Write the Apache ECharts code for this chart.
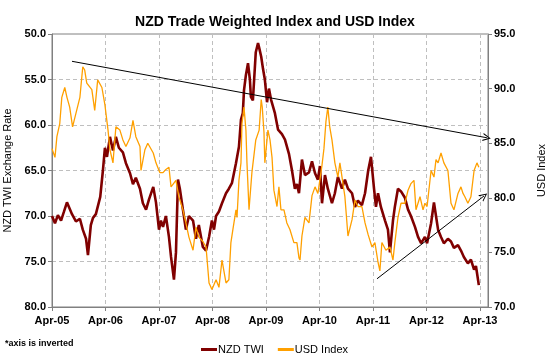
<!DOCTYPE html>
<html>
<head>
<meta charset="utf-8">
<script src="https://cdn.jsdelivr.net/npm/echarts@6/dist/echarts.min.js"></script>
<style>html,body{margin:0;padding:0;background:#fff}#c{width:550px;height:358px}</style>
</head>
<body>
<div id="c"></div>
<script>
var title = 'NZD Trade Weighted Index and USD Index';
var leftAxisName = 'NZD TWI Exchange Rate';
var rightAxisName = 'USD Index';
var footnote = '*axis is inverted';
var xTickLabels = ['Apr-05','Apr-06','Apr-07','Apr-08','Apr-09','Apr-10','Apr-11','Apr-12','Apr-13'];

var nzdDates = ['2005-04-01','2005-04-21','2005-05-11','2005-06-02','2005-06-22','2005-07-12','2005-08-16','2005-09-12','2005-10-09','2005-10-29','2005-11-20','2005-12-03','2005-12-23','2006-01-07','2006-01-27','2006-02-24','2006-03-14','2006-03-28','2006-04-11','2006-05-01','2006-05-22','2006-06-11','2006-07-01','2006-07-29','2006-08-19','2006-09-16','2006-10-06','2006-10-26','2006-11-23','2006-12-13','2007-01-04','2007-01-24','2007-02-21','2007-03-11','2007-04-01','2007-04-14','2007-04-28','2007-05-18','2007-06-08','2007-06-22','2007-07-12','2007-07-26','2007-08-09','2007-08-22','2007-09-12','2007-10-02','2007-10-23','2007-11-20','2007-12-10','2007-12-30','2008-01-27','2008-02-17','2008-03-08','2008-03-28','2008-04-11','2008-04-25','2008-05-15','2008-06-05','2008-07-02','2008-07-22','2008-08-12','2008-09-09','2008-09-29','2008-10-13','2008-10-26','2008-11-03','2008-11-16','2008-11-30','2008-12-13','2008-12-20','2009-01-03','2009-01-23','2009-02-07','2009-02-14','2009-02-27','2009-03-11','2009-03-24','2009-04-08','2009-04-21','2009-05-05','2009-06-01','2009-06-22','2009-07-19','2009-08-09','2009-09-06','2009-09-26','2009-10-16','2009-10-30','2009-11-13','2009-12-03','2009-12-24','2010-01-21','2010-02-10','2010-03-01','2010-03-21','2010-04-04','2010-04-18','2010-05-08','2010-05-28','2010-06-25','2010-07-15','2010-08-05','2010-09-02','2010-09-22','2010-10-13','2010-11-10','2010-11-30','2010-12-20','2011-01-17','2011-02-07','2011-02-27','2011-03-18','2011-04-08','2011-04-21','2011-05-05','2011-05-25','2011-06-22','2011-07-12','2011-07-26','2011-08-16','2011-08-29','2011-09-19','2011-10-10','2011-11-06','2011-11-27','2011-12-17','2012-01-14','2012-02-04','2012-02-24','2012-03-21','2012-04-05','2012-05-02','2012-05-22','2012-06-05','2012-06-19','2012-07-09','2012-07-29','2012-08-26','2012-09-16','2012-10-06','2012-11-03','2012-11-23','2012-12-13','2013-01-10','2013-01-31','2013-02-20','2013-03-04','2013-03-24'];
var nzdValues = [70.0,70.8,69.9,70.5,69.5,68.5,69.8,70.6,70.3,71.5,72.5,74.3,71.0,70.2,69.8,67.9,65.0,62.5,63.5,61.3,62.8,61.3,62.5,63.0,64.2,65.3,66.5,65.8,67.0,68.6,69.3,68.2,66.8,68.5,71.5,70.5,71.2,70.0,72.3,74.5,77.0,74.0,66.0,67.0,69.3,71.5,70.0,70.5,72.5,71.0,73.4,73.8,72.3,70.5,71.5,70.0,69.5,68.6,67.5,67.0,66.4,64.2,62.4,59.4,58.7,56.2,54.5,53.2,55.0,56.9,57.3,52.0,51.0,51.5,52.5,53.8,55.0,57.5,56.0,57.2,58.7,60.5,61.0,61.6,63.2,65.0,67.0,66.5,67.5,63.8,65.5,65.2,64.0,65.3,66.0,64.5,68.6,65.5,67.0,68.6,67.5,65.7,67.0,66.0,67.0,67.5,69.0,68.3,68.8,67.5,65.0,63.5,67.0,69.0,67.5,69.0,70.5,71.5,74.0,70.5,69.0,67.0,67.3,68.0,69.3,70.0,71.2,72.3,73.0,72.3,73.0,70.8,68.5,70.0,71.5,72.3,73.0,72.5,72.8,73.5,73.2,73.8,74.5,75.2,74.8,75.9,75.5,77.6];

var usdDates = ['2005-04-01','2005-04-21','2005-05-04','2005-05-24','2005-06-07','2005-06-27','2005-07-12','2005-07-31','2005-08-20','2005-09-17','2005-10-09','2005-10-29','2005-11-11','2005-11-25','2005-12-30','2006-01-19','2006-02-08','2006-03-07','2006-03-28','2006-04-18','2006-05-01','2006-05-22','2006-06-11','2006-07-08','2006-07-29','2006-08-19','2006-09-16','2006-10-06','2006-10-26','2006-11-23','2006-11-30','2006-12-27','2007-01-16','2007-02-21','2007-03-11','2007-04-07','2007-04-28','2007-05-18','2007-06-08','2007-06-22','2007-07-26','2007-08-15','2007-09-12','2007-10-02','2007-10-23','2007-11-20','2007-12-10','2007-12-30','2008-01-27','2008-02-17','2008-03-08','2008-03-28','2008-04-25','2008-05-15','2008-06-05','2008-07-02','2008-07-22','2008-08-05','2008-08-19','2008-09-09','2008-09-16','2008-09-29','2008-10-13','2008-10-20','2008-11-03','2008-11-16','2008-11-23','2008-12-07','2008-12-27','2009-01-23','2009-02-14','2009-02-27','2009-03-06','2009-03-18','2009-03-24','2009-04-14','2009-04-28','2009-05-12','2009-05-25','2009-06-15','2009-06-28','2009-07-12','2009-08-02','2009-08-22','2009-09-12','2009-10-09','2009-10-30','2009-11-13','2009-11-20','2009-12-03','2009-12-24','2010-01-21','2010-02-10','2010-03-01','2010-03-21','2010-04-18','2010-05-01','2010-05-15','2010-05-28','2010-06-10','2010-06-25','2010-07-15','2010-08-05','2010-08-19','2010-09-22','2010-10-13','2010-11-10','2010-11-30','2010-12-20','2011-01-17','2011-02-07','2011-02-27','2011-03-25','2011-04-14','2011-05-05','2011-05-18','2011-06-01','2011-06-28','2011-07-26','2011-08-16','2011-08-29','2011-09-19','2011-10-10','2011-11-06','2011-11-27','2011-12-17','2012-01-07','2012-01-21','2012-02-17','2012-03-08','2012-03-21','2012-04-05','2012-05-02','2012-05-22','2012-06-05','2012-06-19','2012-07-09','2012-07-29','2012-08-26','2012-09-16','2012-10-06','2012-11-03','2012-11-23','2012-12-07','2012-12-20','2013-01-10','2013-01-31','2013-02-20','2013-03-11','2013-03-24'];
var usdValues = [84.5,83.7,85.6,86.8,89.2,90.1,89.2,88.3,86.5,88.0,89.2,92.0,91.7,90.5,89.9,88.0,90.8,90.1,88.5,86.2,84.4,83.2,86.5,86.2,85.3,84.7,85.5,87.1,85.6,84.7,82.5,84.4,85.0,84.1,83.2,82.3,82.3,82.6,82.8,81.0,81.6,80.1,78.9,77.7,76.4,75.2,77.3,76.4,76.0,75.5,72.2,71.6,72.5,71.8,74.3,72.2,72.5,75.9,77.1,78.9,78.2,81.6,83.2,86.8,88.3,86.2,83.2,78.9,82.3,85.3,86.2,89.0,88.3,86.0,83.2,86.2,85.3,83.7,80.7,79.2,81.0,78.9,78.9,77.7,77.1,75.9,75.9,74.5,74.3,76.5,78.2,77.7,80.2,81.0,80.4,83.0,84.5,87.0,88.3,86.5,85.3,83.2,81.9,83.2,80.1,76.5,78.0,79.8,79.2,79.2,77.7,76.6,75.5,75.9,74.1,73.3,75.9,75.2,75.5,74.3,75.9,78.2,79.5,79.5,80.7,81.3,81.6,78.9,80.1,78.9,79.5,79.2,82.5,81.9,83.5,83.2,84.1,83.2,82.5,79.5,78.9,80.4,81.0,80.4,80.1,79.5,80.1,82.5,83.2,82.8];

// trend arrows, on the NZD TWI (left) axis: [startDate, startValue, endDate, endValue]
var arrowTop = ['2005-08-16', 53.0, '2013-05-18', 61.4];
var arrowBottom = ['2011-04-28', 76.9, '2013-04-28', 67.8];

function toM(s) {
  var p = s.split('-');
  var y = +p[0], mo = +p[1], d = +p[2];
  var dim = new Date(y, mo, 0).getDate();
  return (y - 2005) * 12 + (mo - 4) + (d - 1) / dim;
}
function pairs(ds, vs) { return ds.map(function (d, i) { return [toM(d), vs[i]]; }); }

var chevron = 'path://M0,10 L5,0 L10,10 L8.6,10 L5,2.6 L1.4,10 Z';
var FONT = 'Liberation Sans, Arial, sans-serif';

var chart = echarts.init(document.getElementById('c'), null, {renderer: 'canvas'});
chart.setOption({
  animation: false,
  backgroundColor: '#fff',
  title: {
    text: title, left: 'center', top: 10,
    textStyle: {fontFamily: FONT, fontSize: 14, fontWeight: 'bold', color: '#000'}
  },
  graphic: [{
    type: 'text', left: 5, top: 339,
    style: {text: footnote, fontFamily: FONT, fontSize: 9, fontWeight: 'bold', fill: '#000'}
  }],
  legend: {
    left: 196, top: 339, itemGap: 14, itemWidth: 16, itemHeight: 3, icon: 'rect',
    textStyle: {fontFamily: FONT, fontSize: 11, color: '#000', padding: [0, 0, 0, -4]},
    data: ['NZD TWI', 'USD Index']
  },
  grid: {left: 52, right: 62, top: 34, bottom: 51, show: true, borderColor: '#808080', borderWidth: 1, containLabel: false, outerBoundsMode: 'none'},
  xAxis: {
    type: 'value', min: 0, max: 97.8, interval: 12,
    axisLine: {show: true, lineStyle: {color: '#808080'}},
    axisTick: {show: true, length: 4, inside: false, lineStyle: {color: '#808080'}},
    axisLabel: {
      margin: 8, fontFamily: FONT, fontSize: 11, fontWeight: 'bold', color: '#000',
      showMaxLabel: false,
      formatter: function (v) { return (Math.abs(v % 12) < 1e-6) ? (xTickLabels[Math.round(v / 12)] || '') : ''; }
    },
    splitLine: {show: true, lineStyle: {color: '#BFBFBF', type: [4, 3], width: 1}}
  },
  yAxis: [{
    type: 'value', inverse: true, min: 50, max: 80, interval: 5, position: 'left',
    name: leftAxisName, nameLocation: 'middle', nameGap: 36, nameRotate: 90,
    nameTextStyle: {fontFamily: FONT, fontSize: 11, color: '#000'},
    axisLine: {show: true, lineStyle: {color: '#808080'}},
    axisTick: {show: true, length: 4, lineStyle: {color: '#808080'}},
    axisLabel: {margin: 6, fontFamily: FONT, fontSize: 11, fontWeight: 'bold', color: '#000', formatter: function (v) { return v.toFixed(1); }},
    splitLine: {show: true, lineStyle: {color: '#BFBFBF', type: [4, 3], width: 1}}
  }, {
    type: 'value', min: 70, max: 95, interval: 5, position: 'right',
    name: rightAxisName, nameLocation: 'middle', nameGap: 48, nameRotate: 90,
    nameTextStyle: {fontFamily: FONT, fontSize: 11, color: '#000'},
    axisLine: {show: true, lineStyle: {color: '#808080'}},
    axisTick: {show: true, length: 4, lineStyle: {color: '#808080'}},
    axisLabel: {margin: 6, fontFamily: FONT, fontSize: 11, fontWeight: 'bold', color: '#000', formatter: function (v) { return v.toFixed(1); }},
    splitLine: {show: false}
  }],
  series: [{
    name: 'NZD TWI', type: 'line', yAxisIndex: 0, symbol: 'none',
    data: pairs(nzdDates, nzdValues),
    itemStyle: {color: '#800000'},
    lineStyle: {color: '#800000', width: 2.6},
    z: 2,
    markLine: {
      silent: true, symbol: ['none', chevron], symbolSize: [8, 8],
      label: {show: false},
      lineStyle: {color: '#000', width: 1, type: 'solid'},
      data: [
        [{coord: [toM(arrowTop[0]), arrowTop[1]]}, {coord: [toM(arrowTop[2]), arrowTop[3]]}],
        [{coord: [toM(arrowBottom[0]), arrowBottom[1]]}, {coord: [toM(arrowBottom[2]), arrowBottom[3]]}]
      ]
    }
  }, {
    name: 'USD Index', type: 'line', yAxisIndex: 1, symbol: 'none',
    data: pairs(usdDates, usdValues),
    itemStyle: {color: '#FFA000'},
    lineStyle: {color: '#FFA000', width: 1.3},
    z: 3
  }]
});
</script>
</body>
</html>
